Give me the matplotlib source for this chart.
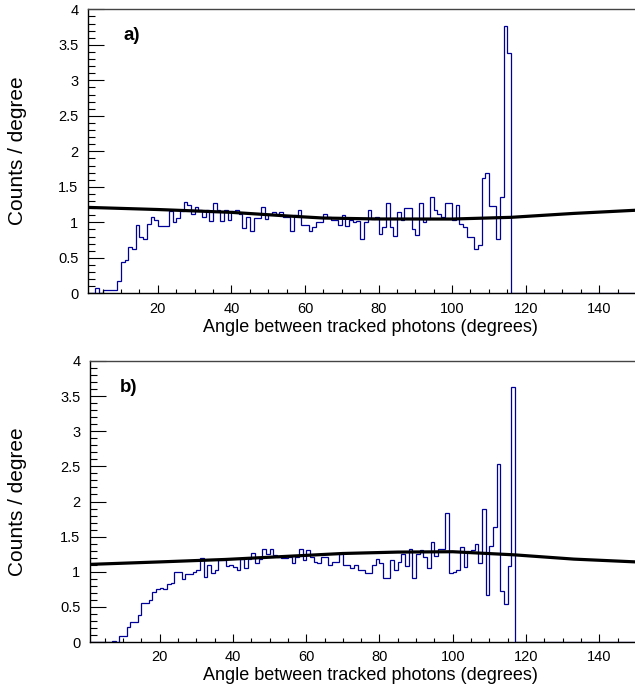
import numpy as np
import matplotlib
matplotlib.use("Agg")
import matplotlib.pyplot as plt
from matplotlib.ticker import MultipleLocator, FuncFormatter

plt.rcParams['font.family'] = ['Liberation Sans', 'DejaVu Sans']

# ---------------- data ----------------
bin_edges = np.arange(1, 151)  # 1-degree bins from 1 to 150

counts_a = [0, 0, 0.07, 0, 0.04, 0.04, 0.05, 0.04, 0.18, 0.44,
            0.47, 0.65, 0.62, 0.96, 0.80, 0.77, 0.98, 1.08, 1.03, 0.95,
            0.95, 0.95, 1.16, 1.00, 1.06, 1.16, 1.28, 1.24, 1.12, 1.21,
            1.17, 1.08, 1.17, 1.02, 1.27, 1.17, 1.02, 1.17, 1.03, 1.16,
            1.17, 1.12, 0.92, 1.07, 0.88, 1.06, 1.06, 1.22, 1.04, 1.12,
            1.14, 1.12, 1.15, 1.08, 1.08, 0.88, 1.10, 1.17, 0.96, 0.96,
            0.88, 0.94, 1.00, 1.00, 1.12, 1.07, 1.03, 1.03, 0.96, 1.10,
            0.95, 1.03, 1.00, 1.02, 0.77, 1.00, 1.18, 1.05, 1.07, 0.83,
            0.94, 1.27, 0.94, 0.81, 1.14, 1.03, 1.20, 1.20, 0.90, 0.82,
            1.27, 1.00, 1.04, 1.35, 1.18, 1.12, 1.07, 1.27, 1.27, 1.03,
            1.25, 0.98, 0.93, 0.80, 0.80, 0.62, 0.68, 1.63, 1.69, 1.23,
            1.23, 0.76, 1.36, 3.77, 3.38] + [0.0] * 34

counts_b = [0, 0, 0, 0, 0, 0, 0.01, 0, 0.085, 0.085,
            0.22, 0.28, 0.29, 0.38, 0.56, 0.55, 0.60, 0.71, 0.76, 0.77,
            0.76, 0.83, 0.84, 1.00, 1.00, 0.89, 0.97, 0.97, 1.00, 1.03,
            1.19, 0.93, 1.10, 0.98, 1.02, 1.17, 1.17, 1.08, 1.10, 1.07,
            1.02, 1.18, 1.05, 1.18, 1.27, 1.13, 1.18, 1.32, 1.25, 1.32,
            1.24, 1.21, 1.19, 1.19, 1.21, 1.13, 1.21, 1.33, 1.17, 1.31,
            1.21, 1.14, 1.13, 1.21, 1.21, 1.10, 1.14, 1.14, 1.25, 1.10,
            1.10, 1.05, 1.10, 1.03, 1.02, 0.98, 0.98, 1.10, 1.18, 1.13,
            0.91, 0.91, 1.17, 1.02, 1.14, 1.25, 1.08, 1.33, 0.91, 1.25,
            1.31, 1.21, 1.06, 1.43, 1.22, 1.32, 1.33, 1.83, 0.98, 0.99,
            1.02, 1.35, 1.07, 1.30, 1.31, 1.40, 1.13, 1.89, 0.67, 1.36,
            1.63, 2.54, 0.72, 0.54, 1.08, 3.63] + [0.0] * 33

fit_x_a = [1, 20, 40, 55, 65, 80, 100, 116, 133, 150]
fit_y_a = [1.21, 1.18, 1.14, 1.09, 1.06, 1.047, 1.046, 1.07, 1.125, 1.17]

fit_x_b = [1, 20, 38, 55, 70, 85, 100, 117, 133, 150]
fit_y_b = [1.105, 1.14, 1.175, 1.22, 1.26, 1.28, 1.285, 1.24, 1.18, 1.14]

panel_labels = ["a)", "b)"]
xlabel = "Angle between tracked photons (degrees)"
ylabel = "Counts / degree"

# ---------------- figure ----------------
W, H = 635, 686
fig = plt.figure(figsize=(W / 100, H / 100), dpi=100)

def px_axes(left, right, top, bottom):
    return fig.add_axes([left / W, 1 - bottom / H, (right - left) / W, (bottom - top) / H])

axes = [px_axes(88, 636, 9.3, 293.3), px_axes(90, 636, 361, 642)]
counts = [counts_a, counts_b]
fits = [(fit_x_a, fit_y_a), (fit_x_b, fit_y_b)]
label_pos = [(123, 35), (120, 388)]
xlabel_y = [327, 676]
ylabel_y = [151, 502]

fmt = FuncFormatter(lambda v, p: ('%g' % round(v, 2)))

for i, ax in enumerate(axes):
    ax.stairs(counts[i], bin_edges, color='#000099', lw=0.9, baseline=0)
    ax.plot(fits[i][0], fits[i][1], color='black', lw=2.3, solid_capstyle='butt')
    ax.set_xlim(1, 150)
    ax.set_ylim(0, 4)
    ax.xaxis.set_major_locator(MultipleLocator(20))
    ax.xaxis.set_minor_locator(MultipleLocator(5))
    ax.yaxis.set_major_locator(MultipleLocator(0.5))
    ax.yaxis.set_minor_locator(MultipleLocator(0.1))
    ax.yaxis.set_major_formatter(fmt)
    ax.tick_params(axis='x', which='major', direction='in', length=5.5, width=0.8,
                   labelsize=10.5, pad=6)
    ax.tick_params(axis='x', which='minor', direction='in', length=3, width=0.8)
    ax.tick_params(axis='y', which='major', direction='in', length=11.5, width=0.8,
                   labelsize=10.5, pad=7)
    ax.tick_params(axis='y', which='minor', direction='in', length=5, width=0.8)
    ax.tick_params(top=False, right=False)
    for s in ['left', 'bottom']:
        ax.spines[s].set_linewidth(1.0)
        ax.spines[s].set_color('black')
    ax.spines['top'].set_linewidth(1.0)
    ax.spines['top'].set_color('#444444')
    ax.spines['right'].set_linewidth(1.0)

    lx, ly = label_pos[i]
    fig.text(lx / W, 1 - ly / H, panel_labels[i], fontsize=13.5, fontweight='bold',
             ha='left', va='center')
    fig.text(370 / W, 1 - xlabel_y[i] / H, xlabel, fontsize=13, ha='center', va='center')
    fig.text(18 / W, 1 - ylabel_y[i] / H, ylabel, fontsize=15, ha='center', va='center',
             rotation=90)

fig.savefig("out.png", dpi=100)
